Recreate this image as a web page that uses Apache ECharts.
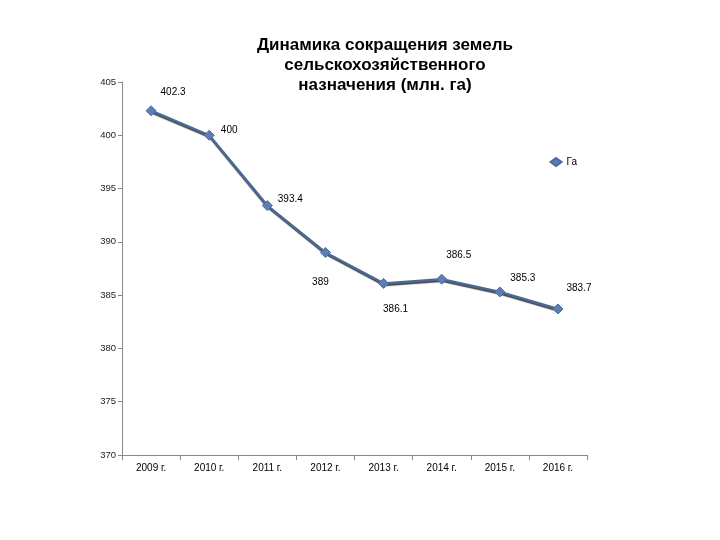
<!DOCTYPE html>
<html>
<head>
<meta charset="utf-8">
<script src="https://cdn.jsdelivr.net/npm/echarts@6/dist/echarts.min.js"></script>
<style>
  html, body { margin: 0; padding: 0; background: #fff; }
</style>
</head>
<body>
<div id="chart" style="width: 720px; height: 540px;"></div>
<script>
const years = ['2009 г.', '2010 г.', '2011 г.', '2012 г.', '2013 г.', '2014 г.', '2015 г.', '2016 г.'];
const values = [402.3, 400, 393.4, 389, 386.1, 386.5, 385.3, 383.7];
const seriesName = 'Га';
const chartTitle = 'Динамика сокращения земель\nсельскохозяйственного\nназначения (млн. га)';

// where each value label sits relative to its point
const labelOffsets = [[22, -19], [20, -5], [23, -6], [-5, 30], [12, 26], [17, -24], [23, -14], [21, -21]];

const chart = echarts.init(document.getElementById('chart'));

const option = {
    animation: false,
    title: {
        text: chartTitle,
        left: 380,
        top: 30,
        textAlign: 'center',
        textStyle: {
            fontFamily: 'Liberation Sans',
            fontWeight: 'bold',
            fontSize: 17,
            lineHeight: 20,
            color: '#000'
        }
    },
    legend: {
        right: 138,
        top: 152,
        itemWidth: 11,
        itemHeight: 8,
        itemGap: 4,
        textStyle: { fontFamily: 'Liberation Sans', fontSize: 10, color: '#000' },
        data: [{ name: seriesName, icon: 'diamond' }]
    },
    grid: {
        left: 122,
        right: 133,
        top: 82,
        bottom: 85
    },
    xAxis: {
        type: 'category',
        data: years,
        boundaryGap: true,
        axisLine: { lineStyle: { color: '#888', width: 1 } },
        axisTick: { show: true, length: 5, lineStyle: { color: '#888' } },
        axisLabel: {
            fontFamily: 'Liberation Sans',
            fontSize: 10,
            color: '#000',
            margin: 8
        }
    },
    yAxis: {
        type: 'value',
        min: 370,
        max: 405,
        interval: 5,
        axisLine: { show: true, lineStyle: { color: '#888', width: 1 } },
        axisTick: { show: true, length: 4, lineStyle: { color: '#888' } },
        splitLine: { show: false },
        axisLabel: {
            fontFamily: 'Liberation Sans',
            fontSize: 9.5,
            color: '#222',
            margin: 6
        }
    },
    series: [
        {
            name: seriesName,
            type: 'line',
            data: values.map((v, i) => ({
                value: v,
                label: { offset: labelOffsets[i] }
            })),
            symbol: 'diamond',
            symbolSize: 10,
            lineStyle: {
                color: '#4a6896',
                width: 2.5,
                shadowColor: 'rgba(0, 0, 0, 0.75)',
                shadowBlur: 1,
                shadowOffsetX: 0.5,
                shadowOffsetY: 1.5
            },
            itemStyle: {
                color: '#5b7eb4',
                borderColor: '#4a6b9e',
                borderWidth: 1
            },
            label: {
                show: true,
                position: 'inside',
                fontFamily: 'Liberation Sans',
                fontSize: 10,
                color: '#000'
            }
        }
    ]
};

chart.setOption(option);
window.addEventListener('resize', chart.resize);
</script>
</body>
</html>
